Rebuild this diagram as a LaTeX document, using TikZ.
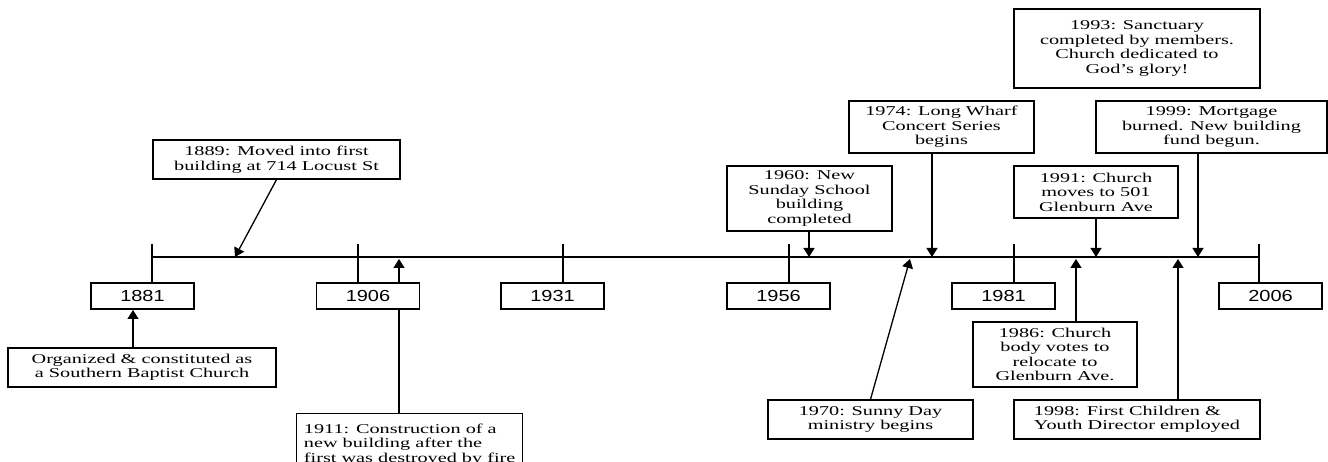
\documentclass[tikz,border=0pt]{standalone}
\usepackage{fontspec}
\setmainfont{Liberation Serif}[FakeStretch=1.5]
\newfontfamily\yearfont{Liberation Sans}[FakeStretch=1.25]
\usetikzlibrary{arrows.meta}
\pgfdeclarelayer{background}
\pgfsetlayers{background,main}
\begin{document}
\begin{tikzpicture}[x=1pt,y=-1pt,
  box/.style={draw, fill=white, line width=1.3pt, inner sep=0pt, align=center,
    font=\fontsize{13.5}{14.5}\selectfont},
  yearbox/.style={draw, fill=white, line width=1.3pt, inner sep=0pt,
    minimum width=103pt, minimum height=26pt, font=\yearfont\fontsize{16}{18}\selectfont},
  conn/.style={line width=1.3pt},
  arr/.style={line width=1.3pt, -{Triangle[width=11pt,length=9pt]}}]
\clip (0,0) rectangle (1328,462);

% year boxes
\node[yearbox] (y1881) at (142.5,296) {1881};
\node[yearbox] (y1906) at (368,296) {1906};
\node[yearbox] (y1931) at (552.5,296) {1931};
\node[yearbox] (y1956) at (778.5,296) {1956};
\node[yearbox] (y1981) at (1003.5,296) {1981};
\node[yearbox] (y2006) at (1270.5,296) {2006};

% event boxes
\node[box, minimum width=268pt, minimum height=39pt] (e1881) at (142,367.5)
  {Organized \& constituted as\\a Southern Baptist Church};
\node[box, minimum width=247pt, minimum height=39pt] (e1889) at (276.5,159.5)
  {1889: Moved into first\\building at 714 Locust St};
\node[box, align=left, minimum width=226pt, minimum height=62pt, anchor=north west] (e1911) at (296,413)
  {1911: Construction of a\\new building after the\\first was destroyed by fire};
\node[box, minimum width=165pt, minimum height=65pt] (e1960) at (809.5,198.5)
  {1960: New\\Sunday School\\building\\completed};
\node[box, minimum width=205pt, minimum height=39pt] (e1970) at (870.5,419.5)
  {1970: Sunny Day\\ministry begins};
\node[box, minimum width=185pt, minimum height=52pt] (e1974) at (941.5,127)
  {1974: Long Wharf\\Concert Series\\begins};
\node[box, minimum width=164pt, minimum height=65pt] (e1986) at (1055,354.5)
  {1986: Church\\body votes to\\relocate to\\Glenburn Ave.};
\node[box, minimum width=164pt, minimum height=52pt] (e1991) at (1096,192)
  {1991: Church\\moves to 501\\Glenburn Ave};
\node[box, minimum width=246pt, minimum height=79pt] (e1993) at (1137,48.5)
  {1993: Sanctuary\\completed by members.\\Church dedicated to\\God's glory!};
\node[box, align=left, minimum width=246pt, minimum height=39pt] (e1998) at (1137,419.5)
  {1998: First Children \&\\Youth Director employed};
\node[box, minimum width=231pt, minimum height=52pt] (e1999) at (1211.5,127)
  {1999: Mortgage\\burned.  New building\\fund begun.};

% coordinates on the timeline
\coordinate (L0) at (152,257);
\coordinate (L1) at (1259,257);
\coordinate (tk1) at (152,244);
\coordinate (tk2) at (358,244);
\coordinate (tk3) at (563,244);
\coordinate (tk4) at (789,244);
\coordinate (tk5) at (1014,244);
\coordinate (tk6) at (1259,244);
\coordinate (a1881) at (133,310);
\coordinate (a1889) at (235,257);
\coordinate (a1911) at (399,259);
\coordinate (a1960) at (809,257);
\coordinate (a1970) at (910,259);
\coordinate (a1974) at (932,257);
\coordinate (a1986) at (1076,259);
\coordinate (a1991) at (1096,257);
\coordinate (a1998) at (1178,259);
\coordinate (a1999) at (1198,257);

\begin{pgfonlayer}{background}
\fill[white] (0,0) rectangle (1328,462);
\draw[conn] (L0) -- (L1);
\foreach \t/\y in {tk1/y1881,tk2/y1906,tk3/y1931,tk4/y1956,tk5/y1981,tk6/y2006}
  \draw[conn] (\t) -- (\t |- \y.north);
\draw[arr] (a1881 |- e1881.north) -- (a1881);
\draw[arr] (e1889.south) -- (a1889);
\draw[arr] (a1911 |- e1911.north) -- (a1911);
\draw[arr] (a1960 |- e1960.south) -- (a1960);
\draw[arr] (e1970.north) -- (a1970);
\draw[arr] (a1974 |- e1974.south) -- (a1974);
\draw[arr] (a1986 |- e1986.north) -- (a1986);
\draw[arr] (a1991 |- e1991.south) -- (a1991);
\draw[arr] (a1998 |- e1998.north) -- (a1998);
\draw[arr] (a1999 |- e1999.south) -- (a1999);
\end{pgfonlayer}
\end{tikzpicture}
\end{document}
